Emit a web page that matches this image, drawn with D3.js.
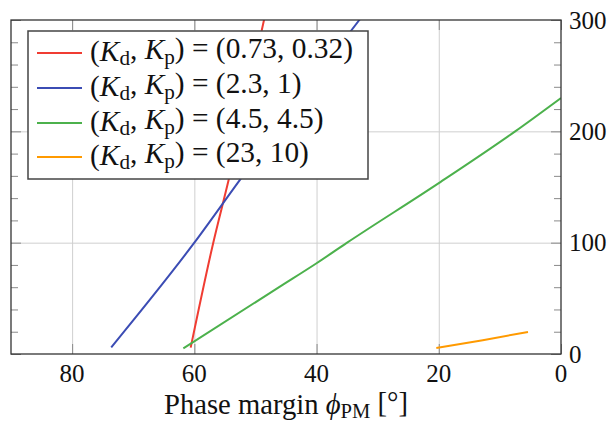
<!DOCTYPE html>
<html>
<head>
<meta charset="utf-8">
<script src="https://cdn.jsdelivr.net/npm/d3@7"></script>
<style>
  body { margin: 0; background: #fff; }
</style>
</head>
<body>
<div id="chart"></div>
<script>
// phase margin (deg) and value, one pair of arrays per curve
const redPhase = [60.6, 56.9, 54.4, 48.6, 48.2];
const redValue = [5.7, 100, 156, 300, 310];
const bluePhase = [73.6, 60, 52.6, 33, 31.6];
const blueValue = [6, 100, 156, 300, 310];
const greenPhase = [61.8, 46, 40, 35, 20, 7.5, 0];
const greenValue = [5, 60.5, 81.5, 100, 153.5, 200, 230];
const orangePhase = [20.4, 12.8, 5.4];
const orangeValue = [5.4, 12.4, 19.8];

const legendLabels = ["(0.73, 0.32)", "(2.3, 1)", "(4.5, 4.5)", "(23, 10)"];
const xTicks = [80, 60, 40, 20, 0];
const yTicks = [0, 100, 200, 300];
const yMinorTicks = [20, 40, 60, 80, 120, 140, 160, 180, 220, 240, 260, 280];

const series = [
  { color: "#f03c32", phase: redPhase, value: redValue },
  { color: "#3b4cb4", phase: bluePhase, value: blueValue },
  { color: "#4cb14c", phase: greenPhase, value: greenValue },
  { color: "#ff9a00", phase: orangePhase, value: orangeValue }
];

const W = 611, H = 422;
const pLeft = 11, pRight = 561, pTop = 20, pBottom = 354;
const serif = "'Liberation Serif', 'Times New Roman', 'DejaVu Serif', serif";

const svg = d3.select("#chart").append("svg")
    .attr("width", W)
    .attr("height", H)
    .attr("font-family", serif);

const x = d3.scaleLinear().domain([90, 0]).range([pLeft, pRight]);
const y = d3.scaleLinear().domain([0, 300]).range([pBottom, pTop]);

// grid
svg.append("g")
    .attr("transform", `translate(0,${pBottom})`)
    .call(d3.axisBottom(x).tickValues(xTicks.filter(d => d !== 0)).tickSize(-(pBottom - pTop)).tickFormat(""))
    .call(g => g.select(".domain").remove())
    .selectAll("line").attr("stroke", "#cfcfcf").attr("stroke-width", 1);

svg.append("g")
    .attr("transform", `translate(${pLeft},0)`)
    .call(d3.axisLeft(y).tickValues([100, 200]).tickSize(-(pRight - pLeft)).tickFormat(""))
    .call(g => g.select(".domain").remove())
    .selectAll("line").attr("stroke", "#cfcfcf").attr("stroke-width", 1);

// tick marks on all four sides, pointing in
function ticks(axis, tr) {
  svg.append("g")
      .attr("transform", tr)
      .call(axis.tickFormat(""))
      .call(g => g.select(".domain").remove())
      .selectAll("line").attr("stroke", "#8a8a8a").attr("stroke-width", 1);
}
ticks(d3.axisBottom(x).tickValues(xTicks).tickSize(-10), `translate(0,${pBottom})`);
ticks(d3.axisTop(x).tickValues(xTicks).tickSize(-10), `translate(0,${pTop})`);
ticks(d3.axisLeft(y).tickValues(yTicks).tickSize(-10), `translate(${pLeft},0)`);
ticks(d3.axisRight(y).tickValues(yTicks).tickSize(-10), `translate(${pRight},0)`);
ticks(d3.axisLeft(y).tickValues(yMinorTicks).tickSize(-7), `translate(${pLeft},0)`);
ticks(d3.axisRight(y).tickValues(yMinorTicks).tickSize(-7), `translate(${pRight},0)`);

// curves, clipped to plot area
svg.append("clipPath").attr("id", "clip")
  .append("rect")
    .attr("x", pLeft).attr("y", pTop)
    .attr("width", pRight - pLeft).attr("height", pBottom - pTop);

const line = d3.line()
    .x(d => x(d[0]))
    .y(d => y(d[1]))
    .curve(d3.curveMonotoneX);

svg.append("g")
    .attr("clip-path", "url(#clip)")
    .selectAll("path")
    .data(series)
    .enter()
    .append("path")
    .attr("d", s => line(s.phase.map((p, i) => [p, s.value[i]])))
    .attr("fill", "none")
    .attr("stroke", s => s.color)
    .attr("stroke-width", 2);

// frame
svg.append("rect")
    .attr("x", pLeft).attr("y", pTop)
    .attr("width", pRight - pLeft).attr("height", pBottom - pTop)
    .attr("fill", "none")
    .attr("stroke", "#333")
    .attr("stroke-width", 1.3);

// tick labels
svg.append("g")
    .selectAll("text")
    .data(xTicks)
    .enter()
    .append("text")
    .attr("x", d => x(d))
    .attr("y", 382)
    .attr("text-anchor", "middle")
    .attr("font-family", serif)
    .attr("font-size", 25)
    .attr("fill", "#111")
    .text(d => d);

svg.append("g")
    .selectAll("text")
    .data(yTicks)
    .enter()
    .append("text")
    .attr("x", pRight + 8)
    .attr("y", d => y(d))
    .attr("dy", "0.34em")
    .attr("font-family", serif)
    .attr("font-size", 25)
    .attr("fill", "#111")
    .text(d => d);

// grow a text until it spans the width seen in the reference
function fitWidth(t, target) {
  const w = t.node().getComputedTextLength();
  const fs = +t.attr("font-size");
  if (w > 0) t.attr("font-size", fs * target / w);
}

// axis title, centred under the plot
const title = svg.append("text")
    .attr("x", (pLeft + pRight) / 2)
    .attr("y", 414)
    .attr("text-anchor", "middle")
    .attr("font-family", serif)
    .attr("font-size", 24)
    .attr("fill", "#111");
title.append("tspan").text("Phase margin ");
title.append("tspan").attr("font-style", "italic").text("\u03D5");
title.append("tspan").attr("dy", "0.2em").attr("font-size", "0.72em").text("PM");
title.append("tspan").attr("dy", "-0.2em").text(" [\u00B0]");
fitWidth(title, 244);

// legend
const legend = svg.append("g");
legend.append("rect")
    .attr("x", 28).attr("y", 31)
    .attr("width", 340).attr("height", 148)
    .attr("fill", "#fff")
    .attr("stroke", "#444")
    .attr("stroke-width", 1.5);

const rowY = [53, 88, 123, 157];
series.forEach((s, i) => {
  legend.append("line")
      .attr("x1", 37).attr("x2", 82)
      .attr("y1", rowY[i]).attr("y2", rowY[i])
      .attr("stroke", s.color)
      .attr("stroke-width", 2);
  const t = legend.append("text")
      .attr("x", 90)
      .attr("y", rowY[i] + 8)
      .attr("font-family", serif)
      .attr("font-size", 24)
      .attr("fill", "#111");
  t.append("tspan").text("(");
  t.append("tspan").attr("font-style", "italic").text("K");
  t.append("tspan").attr("dy", "0.2em").attr("font-size", "0.72em").text("d");
  t.append("tspan").attr("dy", "-0.2em").text(", ");
  t.append("tspan").attr("font-style", "italic").text("K");
  t.append("tspan").attr("dy", "0.2em").attr("font-size", "0.72em").text("p");
  t.append("tspan").attr("dy", "-0.2em").text(") = " + legendLabels[i]);
  if (i === 0) fitWidth(t, 263);
});
// all legend rows share the size of the first
const legendSize = legend.select("text").attr("font-size");
legend.selectAll("text").attr("font-size", legendSize);
</script>
</body>
</html>
